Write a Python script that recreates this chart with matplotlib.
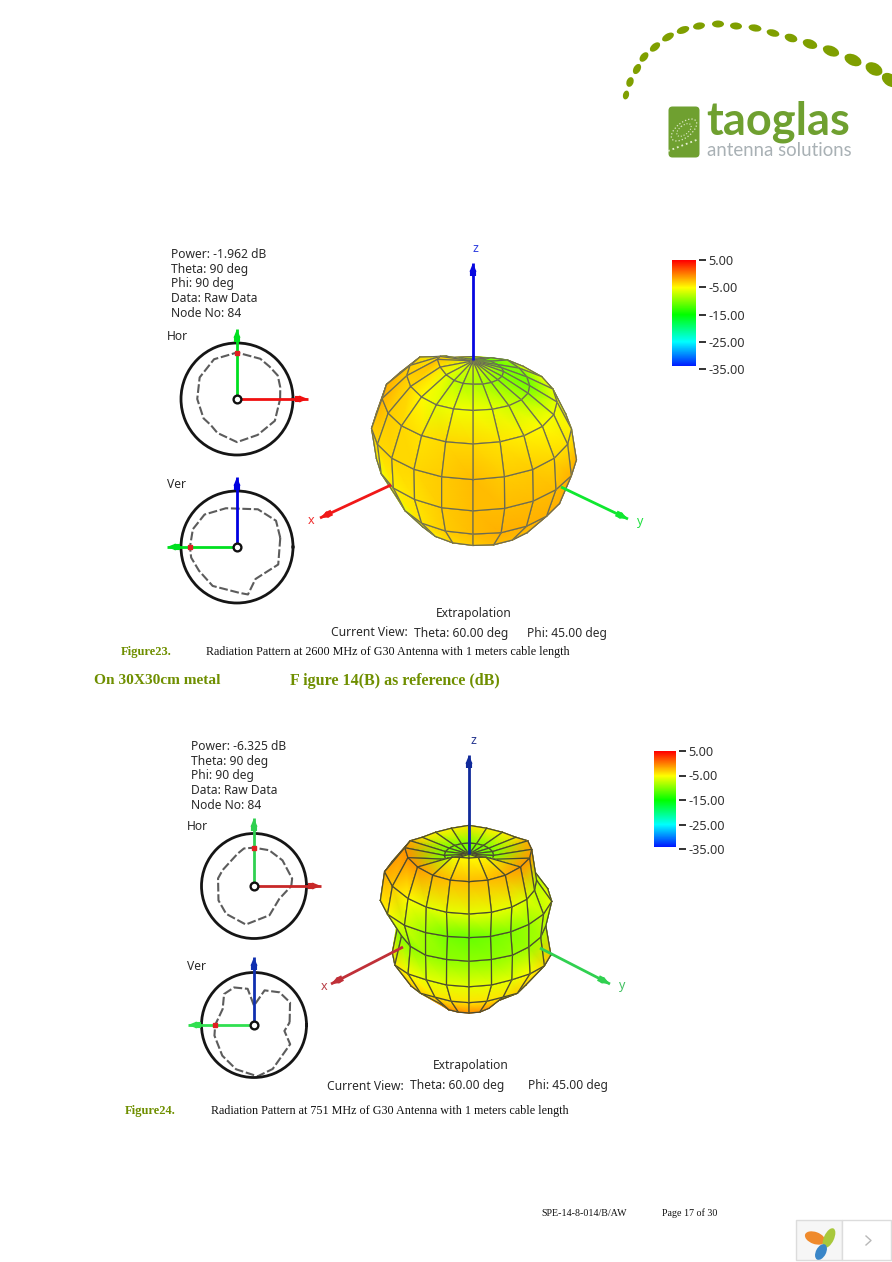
import numpy as np
import matplotlib
matplotlib.use("Agg")
import matplotlib.pyplot as plt
from matplotlib.colors import LinearSegmentedColormap
from matplotlib.patches import Ellipse, FancyBboxPatch, Rectangle

W, H = 892, 1262
GREEN = '#6f8f00'

# view used by the measurement software
VIEW_THETA = 60.0
VIEW_PHI = 45.0

# gain tables, dB. rows = theta, columns = phi
PHI = [9 + 18 * i for i in range(20)]
THETA = [0, 20, 40, 60, 80, 100, 120, 140, 160, 180]

gain_2600_top, gain_2600_bottom = -6.5, -6.0
gain_2600 = [
    [-7.5, -8, -8, -8.5, -9, -9.5, -10, -10, -10.5, -11, -11, -11.5, -11.5, -11.5, -11, -6.5, -4, -2.5, -4, -6],
    [-6, -5.5, -5.5, -6, -7, -8, -9.5, -10.5, -10.5, -10, -9, -10, -11.5, -10, -8.5, -3.5, -3, -3, -3.5, -5],
    [-4, -3.5, -3.5, -4, -4.5, -5, -5.5, -6, -6, -5.5, -5, -4.5, -4, -3.5, -3, -2.5, -2, -2, -3, -3.5],
    [-3.5, -3, -2.5, -3, -3, -3.5, -4, -4.5, -5, -5, -5, -5, -5, -4.5, -4, -3.5, -3, -3, -3.5, -3.5],
    [-4, -3, -2.5, -2.5, -2.5, -2.5, -2, -2, -3, -4, -5, -6, -6, -6, -6, -6, -5.5, -5.5, -5.5, -4.5],
    [-4, -3, -2.5, -2, -2, -2, -2, -3, -4, -5, -6, -7, -7, -7.5, -8, -8.5, -9, -9, -8, -6],
    [-4.5, -3.5, -3, -2.5, -2.5, -2.5, -4, -6, -7, -8, -8, -8, -8, -8, -8.5, -8.5, -8.5, -8, -7.5, -6],
    [-4, -4, -4, -4, -4, -5, -6, -7, -8, -8, -8, -8, -8, -8, -8, -8, -8, -7, -6, -5],
]

gain_751_top, gain_751_bottom = -11.0, -0.5
gain_751 = [
    [-6, -5, -5, -5, -6, -8, -10, -10, -10, -10, -10, -10, -10, -10, -10, -10, -10, -10, -10, -8],
    [-2, -2.5, -2.5, -2.5, -2, -1, -1, -1.5, -2, -4, -4.5, -4.5, -4, -4.5, -4.5, -4, -2, -0.7, -0.7, -1],
    [-6, -6, -6, -6, -6, -6.5, -7.5, -8, -8, -8, -8, -8, -8, -8, -7, -5, -3, -1.5, -3, -5],
    [-9, -10.5, -11, -10.5, -10, -9, -7.5, -6, -6, -6, -6, -6, -6, -6, -6, -5, -4, -4, -5, -7],
    [-9, -9.5, -9.5, -9.5, -9, -9, -8.5, -8, -7, -6, -6, -6, -6, -6, -7, -8, -9, -10, -10, -9.5],
    [-6, -6, -6, -6, -6, -5, -3.5, -2.5, -3, -4, -5, -5, -5, -5, -5, -5, -5, -4.5, -4, -5],
    [-4, -4, -4, -4, -4, -3, -3, -4, -5, -5, -5, -5, -5, -5, -5, -5, -4, -3, -2.5, -3],
    [-0.5, -0.5, -0.5, -0.5, -1, -2, -3, -4, -4, -4, -4, -4, -4, -4, -4, -4, -4, -3, -2, -1],
]

# polar cuts: angle (deg), radius as share of the outer ring
hor1_ang = [0, 15, 30, 45, 60, 90, 120, 150, 180, 210, 225, 240, 270, 300, 330]
hor1_rad = [.77, .80, .84, .82, .83, .83, .82, .77, .71, .69, .66, .70, .77, .74, .78]
ver1_ang = [12, 34, 61, 106, 135, 158, 180, 193, 212, 238, 273, 283, 300, 313, 337]
ver1_rad = [.79, .84, .77, .72, .82, .85, .84, .84, .80, .82, .82, .87, .66, .67, .80]
hor2_ang = [0, 11, 42, 67, 90, 105, 117, 153, 168, 202, 225, 258, 298, 333]
hor2_rad = [.71, .74, .73, .74, .73, .74, .69, .67, .70, .73, .75, .75, .63, .54]
ver2_ang = [4, 32, 52, 73, 90, 100, 118, 134, 153, 180, 195, 224, 248, 274, 293, 332, 349]
ver2_rad = [.68, .81, .79, .69, .37, .70, .81, .82, .67, .74, .78, .84, .91, .98, .91, .78, .59]

bar_ticks = [5, -5, -15, -25, -35]
bar_labels = ['5.00', '-5.00', '-15.00', '-25.00', '-35.00']
info_2600 = ['Power: -1.962 dB', 'Theta: 90 deg', 'Phi: 90 deg', 'Data: Raw Data', 'Node No: 84']
info_751 = ['Power: -6.325 dB', 'Theta: 90 deg', 'Phi: 90 deg', 'Data: Raw Data', 'Node No: 84']

# logo arc dots
dot_x = [626, 630, 637, 644, 655, 668, 683, 699, 718, 736, 755, 773, 791, 810, 831, 853, 874, 890]
dot_y = [95, 82, 69, 57, 47, 37, 30, 26, 24, 26, 28, 33, 38, 44, 51, 60, 69, 80]
dot_w = [9, 10, 11, 11, 12, 13, 13, 12, 12, 12, 13, 13, 13, 15, 17, 18, 18, 18]
dot_h = [6, 7, 7, 7, 7, 7, 7, 7, 7, 7, 7, 7, 8, 9, 10, 11, 12, 12]
dot_a = [-75, -70, -60, -50, -40, -30, -20, -10, 0, 5, 10, 15, 18, 20, 22, 25, 28, 35]

cmap = LinearSegmentedColormap.from_list(
    'gain', [(0, '#0000ff'), (.25, '#00ffff'), (.5, '#00ff00'), (.75, '#ffff00'), (1, '#ff0000')])

fig = plt.figure(figsize=(W / 100, H / 100), dpi=100, facecolor='white')
ax = fig.add_axes([0, 0, 1, 1], zorder=5)
ax.set_xlim(0, W)
ax.set_ylim(H, 0)
ax.axis('off')
ax.patch.set_alpha(0)


def project(theta, phi, r):
    # orthographic view, returns screen right, screen up, depth towards viewer
    t = np.radians(theta)
    d = np.radians(phi - VIEW_PHI)
    v = np.radians(VIEW_THETA)
    right = r * np.sin(t) * np.sin(d)
    front = r * np.sin(t) * np.cos(d)
    up = r * np.cos(t) * np.sin(v) - front * np.cos(v)
    depth = r * np.cos(t) * np.cos(v) + front * np.sin(v)
    return right, up, depth


def draw_lobe(cx, cy, table, top, bottom, r0, k, edge):
    ang = np.array(PHI, dtype=float)
    nphi = len(ang)
    rows = [[top] * nphi] + [list(row) for row in table] + [[bottom] * nphi]
    gain = np.array(rows)
    rad = r0 + k * gain
    th = np.array(THETA, dtype=float)[:, None] * np.ones((1, nphi))
    ph = np.ones((len(THETA), 1)) * ang[None, :]
    sx, sy, sz = project(th, ph, rad)
    sx = cx + sx
    sy = cy - sy
    quads = []
    for i in range(len(THETA) - 1):
        for j in range(nphi):
            j2 = (j + 1) % nphi
            if i == 0:
                idx = [(0, j), (1, j), (1, j2)]
            elif i == len(THETA) - 2:
                idx = [(i, j), (i + 1, j), (i, j2)]
            else:
                idx = [(i, j), (i + 1, j), (i + 1, j2), (i, j2)]
            quads.append(idx)
    quads.sort(key=lambda q: np.mean([sz[p] for p in q]))
    z = 2.0
    for q in quads:
        xs = np.array([sx[p] for p in q])
        ys = np.array([sy[p] for p in q])
        cs = np.array([gain[p] for p in q])
        tris = [[0, 1, 2]] if len(q) == 3 else [[0, 1, 2], [0, 2, 3]]
        ax.tripcolor(xs, ys, tris, cs, shading='gouraud', cmap=cmap, vmin=-35, vmax=5,
                     zorder=z, rasterized=True)
        ax.plot(np.r_[xs, xs[0]], np.r_[ys, ys[0]], color=edge, lw=0.9, zorder=z + 0.0005,
                solid_joinstyle='round')
        z += 0.001


def arrow(x0, y0, x1, y1, color, lw=2.0, z=8):
    ax.plot([x0, x1], [y0, y1], color=color, lw=lw, zorder=z, solid_capstyle='butt')
    dx, dy = x1 - x0, y1 - y0
    n = np.hypot(dx, dy)
    bx, by = x1 - dx / n * 13, y1 - dy / n * 13
    ax.annotate('', xy=(x1, y1), xytext=(bx, by), zorder=z,
                arrowprops=dict(arrowstyle='-|>,head_width=0.18,head_length=0.45', color=color,
                                lw=1.2, shrinkA=0, shrinkB=0))
    ax.plot([bx, bx + dx / n * 6], [by, by + dy / n * 6], color=color, lw=4.4, zorder=z,
            solid_capstyle='butt')


def cut(cx, cy, R, angs, rads, arrows, dot_ang):
    pol = fig.add_axes([(cx - R) / W, 1 - (cy + R) / H, 2 * R / W, 2 * R / H], polar=True, zorder=1)
    t = np.radians(list(angs) + [angs[0]])
    r = list(rads) + [rads[0]]
    pol.plot(t, r, color='#5c5c5c', lw=1.5, linestyle=(0, (4.2, 1.3)))
    pol.set_ylim(0, 1)
    pol.set_xticks([])
    pol.set_yticks([])
    pol.grid(False)
    pol.spines['polar'].set_linewidth(2.0)
    pol.spines['polar'].set_color('#151515')
    for (x1, y1, c) in arrows:
        arrow(cx, cy, x1, y1, c, z=8)
    ang_d = np.radians(dot_ang)
    rr = np.interp(dot_ang, angs, rads)
    ax.plot(cx + R * rr * np.cos(ang_d), cy - R * rr * np.sin(ang_d), 's', ms=2.6, color='#e02020', zorder=9)
    ax.plot(cx, cy, 'o', ms=5.6, mfc='white', mec='#111111', mew=1.7, zorder=10)


def colour_bar(x0, xbar, xtick, y0, y1, ybar):
    cax = fig.add_axes([x0 / W, 1 - y1 / H, (xtick - x0) / W, (y1 - y0) / H], zorder=2)
    vals = np.linspace(-35, 5, 200)[:, None]
    low = -35 + 40 * (y1 - ybar) / (y1 - y0)
    cax.imshow(vals[vals[:, 0] >= low], cmap=cmap, vmin=-35, vmax=5, origin='lower',
               extent=[0, (xbar - x0) / (xtick - x0), low, 5], aspect='auto')
    cax.set_ylim(-35, 5)
    cax.set_xlim(0, 1)
    cax.yaxis.tick_right()
    cax.set_yticks(bar_ticks)
    cax.set_yticklabels(bar_labels, family='Noto Sans', fontsize=9.2, color='#333333')
    cax.set_xticks([])
    cax.tick_params(axis='y', length=5, width=1.3, pad=2, color='#222222', direction='out')
    for s in cax.spines.values():
        s.set_visible(False)


def label(x, y, s, size=8.7, color='#2a2a2a', family='Noto Sans', **kw):
    ax.text(x, y, s, fontsize=size, color=color, family=family, va='center', zorder=12, **kw)


# ---- logo
for x, y, w, h, a in zip(dot_x, dot_y, dot_w, dot_h, dot_a):
    ax.add_patch(Ellipse((x, y), w, h, angle=a, fc='#7f9f00', ec='none', clip_on=True))
ax.add_patch(FancyBboxPatch((671, 109), 26, 46, boxstyle='round,pad=2.5,rounding_size=4',
                            fc='#6fa030', ec='none'))
ax.add_patch(Ellipse((684, 130), 30, 15, angle=-38, fc='none', ec='#dfe9c8', lw=0.9, ls=':'))
ax.add_patch(Ellipse((684, 130), 17, 9, angle=-38, fc='none', ec='#dfe9c8', lw=0.8, ls=':'))
ax.plot([668, 699], [151, 139], color='#e6efd2', lw=1.3, ls=':')
ax.text(706, 122, 'taoglas', fontsize=32.5, fontweight='bold', color='#6fa030', family='Lato',
        va='center', zorder=12)
ax.text(707, 151, 'antenna solutions', fontsize=13.4, color='#a9b1b5', family='Lato', va='center', zorder=12)

# ---- first figure
for i, s in enumerate(info_2600):
    label(171, 254.5 + i * 14.7, s)
label(167, 337, 'Hor')
label(167, 484, 'Ver')
cut(237, 399, 56, hor1_ang, hor1_rad, [(237, 329, '#00e020'), (308, 399, '#f01010')], 90)
cut(237, 547, 56, ver1_ang, ver1_rad, [(237, 477, '#0000e0'), (167, 547, '#00e020')], 180)
draw_lobe(473, 444, gain_2600, gain_2600_top, gain_2600_bottom, 109, 2.0, '#6b6b55')
arrow(473, 360, 473, 263, '#0808e0')
arrow(391, 485, 320, 518, '#f01818')
arrow(561, 487, 628, 519, '#10e830')
label(475, 249, 'z', color='#3040e0', ha='center', size=9)
label(311, 521, 'x', color='#f03030', ha='center', size=9)
label(640, 522, 'y', color='#20e040', ha='center', size=9)
colour_bar(672, 696, 699, 260, 369, 366)
label(436, 614, 'Extrapolation')
label(331, 633, 'Current View:')
label(414, 633, 'Theta: 60.00 deg')
label(527, 633, 'Phi: 45.00 deg')

# ---- second figure
for i, s in enumerate(info_751):
    label(191, 746.5 + i * 14.7, s)
label(187, 827, 'Hor')
label(187, 966, 'Ver')
cut(254, 886, 52.5, hor2_ang, hor2_rad, [(254, 818, '#30d050'), (321, 886, '#c82828')], 90)
cut(254, 1025, 52.5, ver2_ang, ver2_rad, [(254, 957, '#1030b0'), (188, 1025, '#30e050')], 180)
draw_lobe(469, 914, gain_751, gain_751_top, gain_751_bottom, 102, 3.0, '#4a4a30')
arrow(469, 854, 469, 755, '#102a9a')
arrow(403, 947, 331, 984, '#c03038')
arrow(540, 948, 610, 984, '#30d050')
label(473, 740, 'z', color='#283890', ha='center', size=9)
label(324, 986, 'x', color='#b84048', ha='center', size=9)
label(622, 986, 'y', color='#40c060', ha='center', size=9)
colour_bar(654, 676, 679, 751, 849, 847)
label(433, 1066, 'Extrapolation')
label(327, 1086, 'Current View:')
label(410, 1086, 'Theta: 60.00 deg')
label(528, 1086, 'Phi: 45.00 deg')

# ---- captions
SERIF = 'Liberation Serif'
label(121, 652, 'Figure23.', size=9, color=GREEN, family=SERIF, fontweight='bold')
label(206, 652, 'Radiation Pattern at 2600 MHz of G30 Antenna with 1 meters cable length',
      size=8.7, color='#111111', family=SERIF)
label(94, 681, 'On 30X30cm metal', size=11.1, color=GREEN, family=SERIF, fontweight='bold')
label(290, 681, 'F igure 14(B) as reference (dB)', size=11.5, color=GREEN, family=SERIF, fontweight='bold')
label(125, 1111, 'Figure24.', size=9, color=GREEN, family=SERIF, fontweight='bold')
label(211, 1111, 'Radiation Pattern at 751 MHz of G30 Antenna with 1 meters cable length',
      size=8.7, color='#111111', family=SERIF)
label(541, 1213, 'SPE-14-8-014/B/AW', size=7.2, color='#111111', family=SERIF)
label(662, 1213, 'Page 17 of 30', size=7.2, color='#111111', family=SERIF)

# ---- viewer widget, bottom right corner
ax.add_patch(Rectangle((796, 1220), 46, 40, fc='#f6f6f6', ec='#dcdcdc', lw=1))
ax.add_patch(Rectangle((842, 1220), 49, 40, fc='white', ec='#dcdcdc', lw=1))
ax.add_patch(Ellipse((815, 1238), 21, 12, angle=20, fc='#ef8a2c', ec='none'))
ax.add_patch(Ellipse((829, 1238), 21, 10, angle=-65, fc='#a8c83c', ec='none'))
ax.add_patch(Ellipse((821, 1252), 17, 10, angle=118, fc='#3a86c8', ec='none'))
ax.plot([866, 871, 866], [1236, 1240.5, 1245], color='#b8b8b8', lw=1)

fig.savefig('out.png', dpi=100)
